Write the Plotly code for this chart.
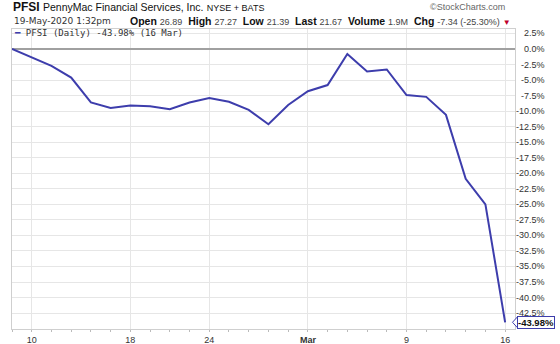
import plotly.graph_objects as go

# ---- data ----
dates = ["2020-02-07", "2020-02-10", "2020-02-11", "2020-02-12", "2020-02-13", "2020-02-14",
         "2020-02-18", "2020-02-19", "2020-02-20", "2020-02-21", "2020-02-24", "2020-02-25",
         "2020-02-26", "2020-02-27", "2020-02-28", "2020-03-02", "2020-03-03", "2020-03-04",
         "2020-03-05", "2020-03-06", "2020-03-09", "2020-03-10", "2020-03-11", "2020-03-12",
         "2020-03-13", "2020-03-16"]
pct_change = [0.0, -1.3, -2.7, -4.6, -8.6, -9.5, -9.1, -9.2, -9.7, -8.6, -7.9, -8.5,
              -9.8, -12.1, -9.0, -6.8, -5.8, -0.8, -3.6, -3.3, -7.4, -7.7, -10.6, -20.9,
              -25.0, -43.98]
x_tick_dates = ["2020-02-10", "2020-02-18", "2020-02-24", "2020-03-02", "2020-03-09", "2020-03-16"]
x_tick_labels = ["10", "18", "24", "<b>Mar</b>", "9", "16"]
y_ticks = [2.5, 0.0, -2.5, -5.0, -7.5, -10.0, -12.5, -15.0, -17.5, -20.0, -22.5, -25.0,
           -27.5, -30.0, -32.5, -35.0, -37.5, -40.0, -42.5]
y_range = [-45.06, 3.22]

LINE = "#3d3dac"
W, H = 560, 344
L, R, T, B = 12, 45, 29, 15
pw, ph = W - L - R, H - T - B


def px(xp):
    return (xp - L) / pw


def py(yp):
    return (H - B - yp) / ph


def val_to_paper_y(v):
    return (v - y_range[0]) / (y_range[1] - y_range[0])


xi = list(range(len(dates)))
tickpos = [dates.index(d) for d in x_tick_dates]

fig = go.Figure()
fig.add_trace(go.Scatter(x=xi, y=pct_change, mode="lines",
                         line=dict(color=LINE, width=2), showlegend=False,
                         hoverinfo="skip"))

ann = []
# right-aligned y tick labels
for v in y_ticks:
    ann.append(dict(x=px(547), y=v, xref="paper", yref="y", xanchor="right", yanchor="middle",
                    text=f"{v:.1f}%", showarrow=False,
                    font=dict(family="Liberation Sans", size=9, color="#333")))
# last value box with pointer
last = pct_change[-1]
yl = val_to_paper_y(last)
hh = 5.5 / ph
fig.add_shape(type="path", xref="paper", yref="paper",
              path=f"M {px(517.5)} {yl + hh} L {px(512.5)} {yl} L {px(517.5)} {yl - hh} Z",
              line=dict(color=LINE, width=1), fillcolor="white", layer="above")
ann.append(dict(x=px(517), y=last, xref="paper", yref="y", xanchor="left",
                yanchor="middle", text=f"<b>{last:.2f}%</b>", showarrow=False,
                bgcolor="white", bordercolor=LINE, borderwidth=1, borderpad=0,
                font=dict(family="Liberation Sans", size=9.5, color="#111")))
# header
ann.append(dict(x=px(11), y=py(7), xref="paper", yref="paper", xanchor="left", yanchor="middle",
                showarrow=False,
                text="<b>PFSI</b> <span style='font-size:10.5px'>PennyMac Financial Services, Inc.</span>"
                     " <span style='font-size:9px'>NYSE + BATS</span>",
                font=dict(family="Liberation Sans", size=12, color="#111")))
ann.append(dict(x=px(507), y=py(7), xref="paper", yref="paper", xanchor="right", yanchor="middle",
                showarrow=False, text="©StockCharts.com",
                font=dict(family="Liberation Sans", size=9, color="#666")))
ann.append(dict(x=px(12), y=py(21), xref="paper", yref="paper", xanchor="left", yanchor="middle",
                showarrow=False, text="19-May-2020 1:32pm",
                font=dict(family="DejaVu Sans", size=9, color="#333")))
vs = "<span style='font-size:9px;color:#444'>"
ann.append(dict(x=px(513), y=py(21), xref="paper", yref="paper", xanchor="right", yanchor="middle",
                showarrow=False,
                text=f"<b>Open</b> {vs}26.89</span>  <b>High</b> {vs}27.27</span>  <b>Low</b> {vs}21.39</span>"
                     f"  <b>Last</b> {vs}21.67</span>  <b>Volume</b> {vs}1.9M</span>  <b>Chg</b> "
                     f"{vs}-7.34 (-25.30%)</span> <span style='color:#c0002a;font-size:8px'>▼</span>",
                font=dict(family="Liberation Sans", size=10.5, color="#111")))
# legend
ann.append(dict(x=px(12), y=py(33), xref="paper", yref="paper", xanchor="left", yanchor="middle",
                showarrow=False,
                text=f"<span style='color:{LINE}'><b>━</b></span> PFSI (Daily) {last:.2f}% (16 Mar)",
                font=dict(family="DejaVu Sans Mono", size=9, color="#333")))

fig.update_layout(
    width=W, height=H, margin=dict(l=L, r=R, t=T, b=B, autoexpand=False),
    paper_bgcolor="white", plot_bgcolor="white",
    annotations=ann,
    xaxis=dict(range=[0, 25.5], tickmode="array", tickvals=tickpos, ticktext=x_tick_labels,
               showgrid=True, gridcolor="#e6e6e6", gridwidth=1, zeroline=False,
               showline=True, linecolor="#cfcfcf", linewidth=1, mirror=True,
               ticks="outside", ticklen=2, tickcolor="#bbb", automargin=False,
               minor=dict(dtick=1, tick0=0, ticks="outside", ticklen=2, tickcolor="#bbb",
                          showgrid=False),
               tickfont=dict(family="Liberation Sans", size=9, color="#333"),
               fixedrange=True),
    yaxis=dict(range=y_range, side="right", tickmode="array", tickvals=y_ticks,
               showticklabels=False, showgrid=True, gridcolor="#e6e6e6", gridwidth=1,
               zeroline=True, zerolinecolor="#a0a0a0", zerolinewidth=1.5,
               showline=True, linecolor="#cfcfcf", linewidth=1, mirror=True,
               automargin=False, fixedrange=True),
)

fig.write_html("out.html", config={"displayModeBar": False})
